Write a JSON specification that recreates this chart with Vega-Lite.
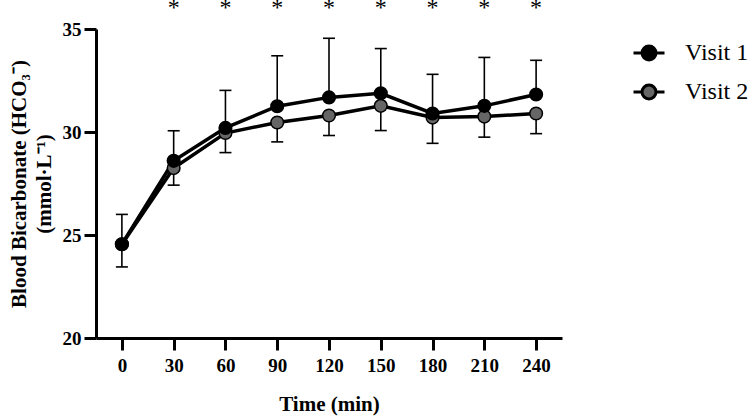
{
  "$schema": "https://vega.github.io/schema/vega-lite/v6.json",
  "width": 466,
  "height": 309,
  "autosize": "none",
  "padding": {"left": 96, "top": 29, "right": 188, "bottom": 79},
  "background": "white",
  "config": {
    "view": {"stroke": null},
    "font": "'Liberation Serif', 'Times New Roman', Times, serif",
    "axis": {
      "grid": false,
      "domainColor": "black",
      "domainWidth": 3,
      "tickColor": "black",
      "tickWidth": 3,
      "tickSize": 12,
      "labelFont": "'Liberation Serif', 'Times New Roman', Times, serif",
      "labelFontWeight": "bold",
      "labelFontSize": 19,
      "labelColor": "black",
      "titleFont": "'Liberation Serif', 'Times New Roman', Times, serif",
      "titleFontWeight": "bold",
      "titleFontSize": 21,
      "titleColor": "black"
    }
  },
  "datasets": {
    "bicarb": [
      {"time": 0, "visit": "Visit 2", "mean": 24.55, "errEnd": 23.45},
      {"time": 30, "visit": "Visit 2", "mean": 28.25, "errEnd": 27.42},
      {"time": 60, "visit": "Visit 2", "mean": 29.95, "errEnd": 29.0},
      {"time": 90, "visit": "Visit 2", "mean": 30.46, "errEnd": 29.52},
      {"time": 120, "visit": "Visit 2", "mean": 30.8, "errEnd": 29.83},
      {"time": 150, "visit": "Visit 2", "mean": 31.27, "errEnd": 30.07},
      {"time": 180, "visit": "Visit 2", "mean": 30.7, "errEnd": 29.45},
      {"time": 210, "visit": "Visit 2", "mean": 30.75, "errEnd": 29.75},
      {"time": 240, "visit": "Visit 2", "mean": 30.9, "errEnd": 29.92},
      {"time": 0, "visit": "Visit 1", "mean": 24.55, "errEnd": 26.0},
      {"time": 30, "visit": "Visit 1", "mean": 28.6, "errEnd": 30.06},
      {"time": 60, "visit": "Visit 1", "mean": 30.2, "errEnd": 32.02},
      {"time": 90, "visit": "Visit 1", "mean": 31.25, "errEnd": 33.7},
      {"time": 120, "visit": "Visit 1", "mean": 31.68, "errEnd": 34.55},
      {"time": 150, "visit": "Visit 1", "mean": 31.88, "errEnd": 34.05},
      {"time": 180, "visit": "Visit 1", "mean": 30.9, "errEnd": 32.8},
      {"time": 210, "visit": "Visit 1", "mean": 31.27, "errEnd": 33.62},
      {"time": 240, "visit": "Visit 1", "mean": 31.82, "errEnd": 33.48}
    ],
    "sig": [
      {"time": 30}, {"time": 60}, {"time": 90}, {"time": 120},
      {"time": 150}, {"time": 180}, {"time": 210}, {"time": 240}
    ]
  },
  "encoding": {
    "x": {
      "field": "time",
      "type": "quantitative",
      "scale": {"domain": [-15, 255], "nice": false, "zero": false},
      "axis": {
        "values": [0, 30, 60, 90, 120, 150, 180, 210, 240],
        "labelPadding": 6,
        "title": "Time (min)",
        "titlePadding": 18
      }
    }
  },
  "layer": [
    {
      "data": {"name": "bicarb"},
      "mark": {"type": "rule", "color": "black", "strokeWidth": 1.6},
      "encoding": {
        "y": {
          "field": "mean",
          "type": "quantitative",
          "scale": {"domain": [20, 35], "nice": false, "zero": false},
          "axis": {
            "values": [20, 25, 30, 35],
            "labelPadding": 3,
            "title": ["Blood Bicarbonate (HCO₃⁻)", "(mmol·L⁻¹)"],
            "titleLineHeight": 25,
            "titlePadding": 8
          }
        },
        "y2": {"field": "errEnd"}
      }
    },
    {
      "data": {"name": "bicarb"},
      "mark": {"type": "tick", "orient": "horizontal", "color": "black", "size": 12, "thickness": 1.6, "opacity": 1},
      "encoding": {
        "y": {"field": "errEnd", "type": "quantitative"}
      }
    },
    {
      "data": {"name": "bicarb"},
      "transform": [{"filter": "datum.visit === 'Visit 2'"}],
      "mark": {"type": "line", "color": "black", "strokeWidth": 3.5},
      "encoding": {
        "y": {"field": "mean", "type": "quantitative"}
      }
    },
    {
      "data": {"name": "bicarb"},
      "transform": [{"filter": "datum.visit === 'Visit 1'"}],
      "mark": {"type": "line", "color": "black", "strokeWidth": 3.5},
      "encoding": {
        "y": {"field": "mean", "type": "quantitative"}
      }
    },
    {
      "data": {"name": "bicarb"},
      "mark": {"type": "point", "shape": "circle", "filled": true, "size": 160, "stroke": "black", "strokeWidth": 1.5, "opacity": 1},
      "encoding": {
        "y": {"field": "mean", "type": "quantitative"},
        "fill": {
          "field": "visit",
          "type": "nominal",
          "scale": {"domain": ["Visit 1", "Visit 2"], "range": ["#000000", "#666666"]},
          "legend": {
            "title": null,
            "orient": "none",
            "legendX": 536,
            "legendY": 7,
            "padding": 0,
            "symbolType": "M-1,0H-0.45M0.45,0H1M-0.45,0A0.45,0.45,0,1,1,0.45,0A0.45,0.45,0,1,1,-0.45,0Z",
            "symbolSize": 961,
            "symbolStrokeColor": "black",
            "symbolStrokeWidth": 3,
            "symbolOpacity": 1,
            "labelFont": "'Liberation Serif', 'Times New Roman', Times, serif",
            "labelFontSize": 24,
            "labelColor": "black",
            "labelOffset": 19,
            "rowPadding": 9
          }
        },
        "order": {"field": "visit", "sort": "descending"}
      }
    },
    {
      "data": {"name": "sig"},
      "mark": {"type": "text", "text": "*", "font": "'Liberation Serif', 'Times New Roman', Times, serif", "fontSize": 24, "fill": "black", "baseline": "middle"},
      "encoding": {
        "y": {"datum": 36.0}
      }
    }
  ]
}
